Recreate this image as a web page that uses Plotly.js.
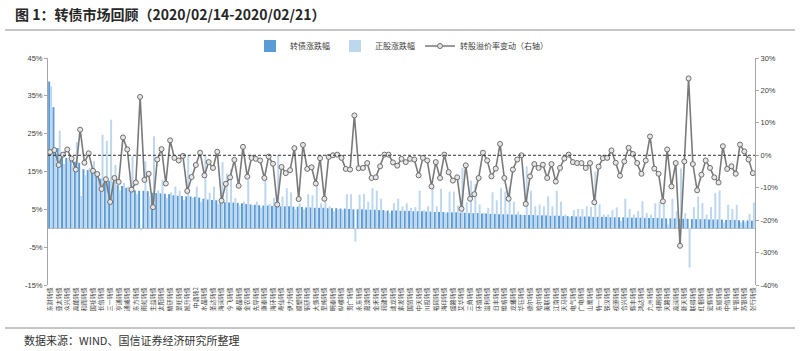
<!DOCTYPE html>
<html>
<head>
<meta charset="utf-8">
<script src="https://cdn.plot.ly/plotly-3.0.1.min.js"></script>
<style>html,body{margin:0;padding:0;background:#fff;}#chart{width:800px;height:351px;}</style>
</head>
<body>
<div id="chart"></div>
<script>
const bondNames = [
"东财转债","蓝思转债","亚太转债","天康转债","众兴转债","利欧转债","高能转债","洪涛转债","和而转债","博彦转债",
"国祯转债","光华转债","长信转债","海尔转债","三一转债","航信转债","亨通转债","桐昆转债","通威转债","隆基转债",
"东方转债","湖广转债","雨虹转债","福能转债","生益转债","安井转债","太阳转债","华通转债","精研转债","鼎胜转债",
"景旺转债","奥佳转债","旭升转债","久其转债","中鼎转2","文科转债","水晶转债","华源转债","圣达转债","拓邦转债",
"海澜转债","特发转债","今飞转债","长久转债","泰晶转债","一心转债","金农转债","千禾转债","先导转债","横河转债",
"康泰转债","岭南转债","海环转债","中来转债","寿仙转债","新泉转债","伊力转债","宝信转债","模塑转债","凯龙转债",
"钢研转债","再升转债","大族转债","顾家转债","至纯转债","新凤转债","明泰转债","玲珑转债","纵横转债","百川转债",
"贵广转债","中环转债","永东转债","参林转债","嘉澳转债","长青转2","金禾转债","孚日转债","润建转债","利尔转债",
"迪龙转债","威帝转债","索发转债","未来转债","国贸转债","清水转债","中天转债","游族转债","川投转债","核建转债",
"裕同转债","博威转债","海印转债","万信转2","盛路转债","骆驼转债","艾华转债","佳都转债","三角转债","兄弟转债",
"环境转债","苏利转债","溢利转债","英科转债","日丰转债","司尔转债","维格转债","正元转债","龙蟠转债","蒙电转债",
"华钰转债","道氏转债","德尔转债","金力转债","哈尔转债","隆利转债","美联转债","吉视转债","江南转债","林洋转债",
"天马转债","宁行转债","电气转债","蓝盾转债","广电转债","格力转债","山鹰转债","大业转债","特一转债","双环转债",
"铁汉转债","南威转债","视源转债","尚荣转债","合兴转债","启明转债","辉丰转债","鲁泰转债","鸿达转债","吉祥转债",
"九州转债","安图转债","伟明转债","中装转债","天路转债","国君转债","高澜转债","花王转债","新天转债","杭电转债",
"联得转债","钧达转债","红相转债","蓝晓转债","宏辉转债","国光转债","东缆转债","新莱转债","中信转债","光大转债",
"平银转债","浦发转债","苏银转债","常熟转债","张行转债"
];

// 转债涨跌幅 (%)
const bondChange = [
38.8,32.0,21.2,18.8,18.6,18.5,17.6,17.3,15.6,15.4,
14.9,14.3,13.1,12.9,12.5,12.3,11.4,11.2,10.7,10.5,
10.0,9.9,9.9,9.8,9.4,9.3,9.2,9.1,9.0,8.7,
8.6,8.5,8.4,8.4,8.3,8.1,7.8,7.6,7.5,7.4,
7.0,6.9,6.8,6.8,6.7,6.6,6.4,6.3,6.2,6.1,
6.0,6.0,5.9,5.9,5.8,5.8,5.8,5.7,5.7,5.6,
5.5,5.5,5.4,5.4,5.4,5.3,5.3,5.3,5.2,5.2,
5.1,5.0,5.0,5.0,4.9,4.9,4.9,4.8,4.8,4.7,
4.7,4.7,4.6,4.6,4.6,4.5,4.5,4.5,4.4,4.4,
4.3,4.3,4.3,4.2,4.2,4.2,4.1,4.1,4.0,4.0,
4.0,3.9,3.9,3.8,3.8,3.7,3.7,3.7,3.6,3.6,
3.6,3.5,3.5,3.5,3.4,3.4,3.4,3.3,3.3,3.3,
3.2,3.2,3.2,3.1,3.1,3.1,3.1,3.0,3.0,3.0,
3.0,2.9,2.9,2.9,2.9,2.8,2.8,2.8,2.8,2.7,
2.7,2.7,2.7,2.6,2.6,2.6,2.6,2.5,2.5,2.5,
2.4,2.4,2.4,2.4,2.3,2.3,2.3,2.3,2.2,2.2,
2.2,2.1,2.1,2.1,2.0
];

// 正股涨跌幅 (%)
const stockChange = [
37.5,20.0,25.8,17.0,18.0,16.5,22.8,8.5,14.0,16.0,
17.8,13.0,24.7,23.1,28.7,16.8,10.0,12.0,11.0,19.0,
9.0,-0.5,17.7,8.5,24.3,10.0,12.8,8.0,9.5,11.0,
9.9,7.5,19.4,8.0,11.0,7.0,19.4,9.4,11.0,6.5,
17.5,14.4,15.7,8.0,6.0,7.0,12.8,6.0,7.0,5.5,
12.8,6.5,8.0,19.4,8.4,10.6,9.5,5.0,6.6,5.0,
9.0,8.7,12.1,6.6,8.0,5.8,4.5,5.0,4.8,9.0,
9.0,-3.5,8.9,9.1,7.0,10.6,9.9,7.8,4.5,4.0,
6.6,7.8,5.8,6.6,5.4,5.6,9.9,4.8,5.8,10.4,
5.8,10.4,4.0,9.7,9.7,6.0,16.0,6.9,12.6,11.7,
6.3,4.0,5.4,9.5,7.4,10.6,9.7,11.0,7.0,4.4,
3.5,16.4,9.9,5.8,6.3,5.8,8.4,5.8,9.9,7.0,
3.6,3.0,4.8,5.1,5.1,5.8,5.6,15.0,6.3,3.6,
3.6,4.8,5.5,2.0,7.8,5.1,3.6,4.5,7.2,4.0,
3.6,6.6,6.9,7.5,1.0,7.8,4.5,15.8,4.0,-10.4,
5.6,8.4,6.7,3.6,5.6,9.3,10.0,1.5,6.2,5.1,
6.2,1.5,1.5,3.8,6.8
];

// 转股溢价率变动 (%, 右轴)
const premiumChange = [
1.0,1.6,-3.0,0.2,1.8,-1.0,-4.4,7.9,-2.3,0.6,
-4.8,-5.8,-10.4,-7.4,-14.4,-7.0,-8.2,5.5,1.8,-10.6,
-8.4,18.0,-7.6,-5.7,-16.0,-1.3,1.9,-8.7,4.6,-0.8,
-1.6,-0.2,-11.0,-6.7,-3.0,0.8,-6.2,-2.1,-3.9,1.1,
-14.0,-8.8,-6.8,-1.4,-9.4,2.6,-6.6,-0.8,-1.1,-1.6,
-7.0,-0.4,-2.6,-15.2,-3.6,-5.5,-4.6,2.2,-13.5,3.2,
-4.2,-3.7,-8.7,-0.9,-13.4,-0.5,0.0,0.2,-0.8,-4.2,
-4.4,12.3,-4.0,-3.9,-2.4,-7.0,-6.8,-3.4,0.2,0.2,
-2.2,-3.2,-1.1,-2.1,-1.1,-1.3,-6.2,-0.8,-1.6,-9.6,
-2.1,-7.0,0.2,-5.2,-7.8,-6.8,-16.5,-3.1,-13.4,-12.0,
-7.0,0.8,-1.6,-6.5,-4.1,3.5,-7.0,-13.4,-4.4,-1.3,
0.0,-15.0,-6.5,-2.7,-3.9,-2.9,-7.0,-2.7,-8.1,-3.9,
-1.0,0.2,-2.1,-2.4,-2.4,-3.9,-2.4,-14.5,-3.5,-0.9,
-0.8,1.5,-2.3,-6.3,-1.9,2.3,0.4,-2.4,-5.7,-1.6,
5.8,-4.1,-5.7,-14.2,1.8,-9.6,-2.4,-27.9,-1.9,23.7,
-2.7,-10.8,-6.0,-1.6,-3.9,-6.8,-8.4,2.8,-4.2,-3.4,
-5.7,3.3,1.2,-1.3,-5.5
];

const seriesNames = ["转债涨跌幅", "正股涨跌幅", "转股溢价率变动（右轴）"];
const leftTicks = [-15, -5, 5, 15, 25, 35, 45];
const rightTicks = [-40, -30, -20, -10, 0, 10, 20, 30];

const tickIdx = bondNames.map((n, i) => i).filter(i => i % 2 === 0);
const tickVals = tickIdx.map(i => bondNames[i]);

const cjk = '"Noto Sans CJK SC", "Noto Sans", sans-serif';

const traces = [
  {type: 'bar', name: seriesNames[0], x: bondNames, y: bondChange,
   marker: {color: '#5B9BD5'}, yaxis: 'y', hoverinfo: 'x+y'},
  {type: 'bar', name: seriesNames[1], x: bondNames, y: stockChange,
   marker: {color: '#BDD7EE'}, yaxis: 'y', hoverinfo: 'x+y'},
  {type: 'scatter', mode: 'lines+markers', name: seriesNames[2], x: bondNames, y: premiumChange,
   yaxis: 'y2', line: {color: '#7A7A7A', width: 1.6},
   marker: {symbol: 'circle', size: 5, color: '#E6E6E6', line: {color: '#6E6E6E', width: 1}}}
];

// paper coords helpers (plot area: x 48..755, y 58..285 px)
const L = 48, R = 755, T = 58, B = 285;
const px2x = p => (p - L) / (R - L);
const py2y = p => (B - p) / (B - T);

const layout = {
  width: 800, height: 351,
  margin: {l: L, r: 800 - R, t: T, b: 351 - B, pad: 0},
  paper_bgcolor: '#fff', plot_bgcolor: '#fff',
  barmode: 'group', bargap: 0.08, bargroupgap: 0,
  showlegend: true,
  legend: {orientation: 'h', x: 0.5, xanchor: 'center', y: py2y(46), yanchor: 'middle',
           font: {family: cjk, size: 8, color: '#404040'}, itemwidth: 30, tracegroupgap: 0,
           bgcolor: 'rgba(0,0,0,0)'},
  title: {text: '<b>图 1：转债市场回顾（2020/02/14-2020/02/21）</b>',
          x: 15 / 800, xanchor: 'left', xref: 'container',
          y: 1 - 15 / 351, yanchor: 'middle', yref: 'container',
          font: {family: cjk, size: 14, color: '#262626'}},
  xaxis: {type: 'category', range: [-0.5, bondNames.length - 0.5],
          tickmode: 'array', tickvals: tickVals, ticktext: tickVals,
          tickangle: -90, tickfont: {family: cjk, size: 6, color: '#404040'},
          showline: false, ticks: '', showgrid: false, zeroline: false, fixedrange: true},
  yaxis: {range: [-15, 45], tickmode: 'array', tickvals: leftTicks,
          ticktext: leftTicks.map(v => v + '%'),
          showline: true, linecolor: '#A6A6A6', linewidth: 1,
          ticks: 'outside', ticklen: 3, tickcolor: '#A6A6A6',
          tickfont: {family: 'Liberation Sans, Arial, sans-serif', size: 7.5, color: '#404040'},
          showgrid: false, zeroline: true, zerolinecolor: '#BFBFBF', zerolinewidth: 1},
  yaxis2: {range: [-40, 30], overlaying: 'y', side: 'right', tickmode: 'array', tickvals: rightTicks,
           ticktext: rightTicks.map(v => v + '%'),
           showline: true, linecolor: '#A6A6A6', linewidth: 1,
           ticks: 'outside', ticklen: 3, tickcolor: '#A6A6A6',
           tickfont: {family: 'Liberation Sans, Arial, sans-serif', size: 7.5, color: '#404040'},
           showgrid: false, zeroline: false},
  shapes: [
    {type: 'line', xref: 'paper', yref: 'y2', x0: 0, x1: 1, y0: 0, y1: 0,
     line: {color: '#333', width: 1, dash: '3px,2px'}},
    {type: 'line', xref: 'paper', yref: 'paper', x0: px2x(5), x1: px2x(795), y0: py2y(30), y1: py2y(30),
     line: {color: '#8C8C8C', width: 1}},
    {type: 'line', xref: 'paper', yref: 'paper', x0: px2x(5), x1: px2x(795), y0: py2y(328), y1: py2y(328),
     line: {color: '#8C8C8C', width: 1}}
  ],
  annotations: [
    {text: '数据来源：WIND、国信证券经济研究所整理', xref: 'paper', yref: 'paper',
     x: px2x(22), xanchor: 'left', y: py2y(340), yanchor: 'middle', showarrow: false,
     font: {family: cjk, size: 11, color: '#333'}}
  ]
};

Plotly.newPlot('chart', traces, layout, {staticPlot: true, displayModeBar: false});
</script>
</body>
</html>
